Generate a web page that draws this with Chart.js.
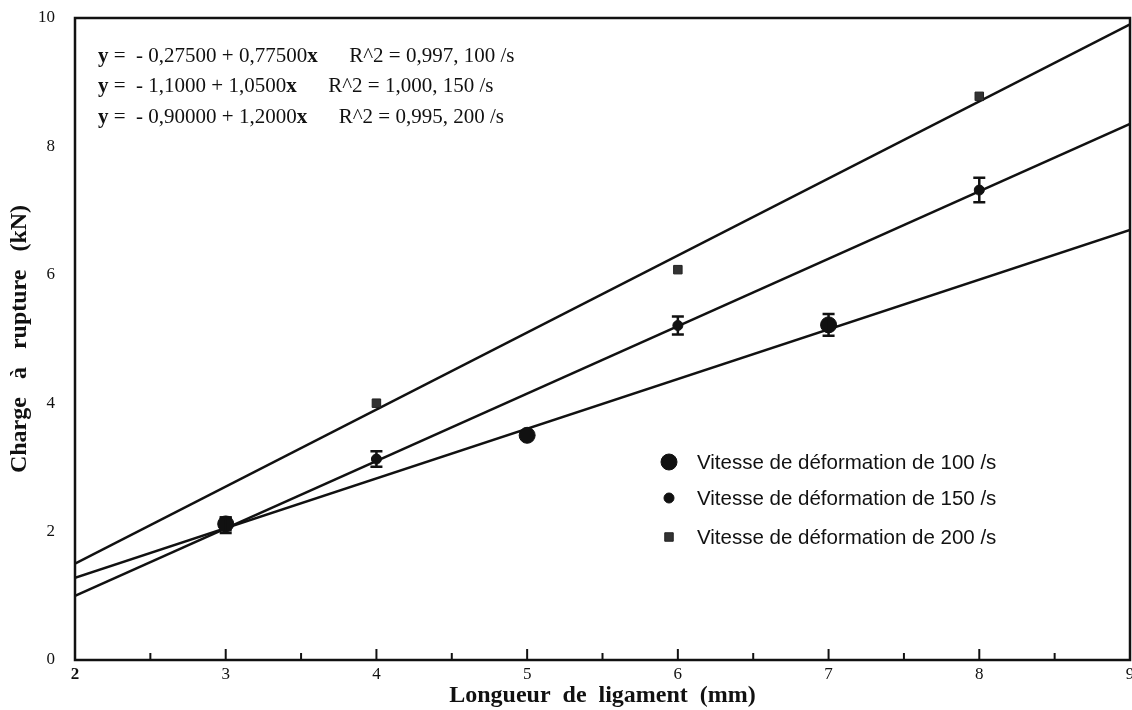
<!DOCTYPE html>
<html>
<head>
<meta charset="utf-8">
<script src="https://cdn.jsdelivr.net/npm/chart.js@4"></script>
<style>
  html, body { margin: 0; padding: 0; background: #fff; }
  #wrap { position: relative; width: 1132px; height: 710px; }
  canvas { display: block; }
  .eq { position: absolute; left: 98px; font-family: "Liberation Serif", "DejaVu Serif", serif; font-size: 21px; line-height: 22px; color: #111; white-space: pre; }
  .eq b { font-weight: bold; }
  .lg { position: absolute; left: 697px; font-family: "Liberation Sans", Arial, sans-serif; font-size: 20.5px; line-height: 22px; color: #111; white-space: pre; }
</style>
</head>
<body>
<div id="wrap">
  <canvas id="c" width="1132" height="710"></canvas>
  <div class="eq" style="top:44px"><b>y</b> =  - 0,27500 + 0,77500<b>x</b>      R^2 = 0,997, 100 /s</div>
  <div class="eq" style="top:74px"><b>y</b> =  - 1,1000 + 1,0500<b>x</b>      R^2 = 1,000, 150 /s</div>
  <div class="eq" style="top:105px"><b>y</b> =  - 0,90000 + 1,2000<b>x</b>      R^2 = 0,995, 200 /s</div>
  <div class="lg" style="top:451px">Vitesse de déformation de 100 /s</div>
  <div class="lg" style="top:487px">Vitesse de déformation de 150 /s</div>
  <div class="lg" style="top:526px">Vitesse de déformation de 200 /s</div>
</div>
<script>
// ---- data ----
const xTickValues = [2, 3, 4, 5, 6, 7, 8, 9];
const yTickValues = [0, 2, 4, 6, 8, 10];

const x100 = [3, 5, 7];
const y100 = [2.12, 3.5, 5.22];
const err100 = [0.1, 0, 0.17];

const x150 = [3, 4, 6, 8];
const y150 = [2.1, 3.13, 5.21, 7.32];
const err150 = [0.12, 0.12, 0.14, 0.19];

const x200 = [4, 6, 8];
const y200 = [4.0, 6.08, 8.78];

const fitX = [2, 9];
const fit100 = [1.28, 6.70];
const fit150 = [1.0, 8.35];
const fit200 = [1.5, 9.9];

const legendLabels = ['Vitesse de déformation de 100 /s', 'Vitesse de déformation de 150 /s', 'Vitesse de déformation de 200 /s'];
const xTitle = 'Longueur  de  ligament  (mm)';
const yTitle = 'Charge   à   rupture   (kN)';

const pts = (xs, ys) => xs.map((x, i) => ({ x: x, y: ys[i] }));

const INK = '#111';

// ---- plugins ----
const bgPlugin = {
  id: 'bg',
  beforeDraw(chart) {
    const c = chart.ctx;
    c.save(); c.fillStyle = '#fff'; c.fillRect(0, 0, chart.width, chart.height); c.restore();
  }
};

const framePlugin = {
  id: 'frame',
  afterDraw(chart) {
    const { ctx, chartArea: a, scales } = chart;
    ctx.save();
    ctx.strokeStyle = INK;
    ctx.lineWidth = 2.5;
    ctx.strokeRect(a.left, a.top, a.right - a.left, a.bottom - a.top);
    ctx.lineWidth = 2;
    for (let v = 2.5; v < 9; v += 0.5) {
      const px = scales.x.getPixelForValue(v);
      const len = Number.isInteger(v) ? 11 : 7;
      ctx.beginPath(); ctx.moveTo(px, a.bottom); ctx.lineTo(px, a.bottom - len); ctx.stroke();
    }
    ctx.restore();
  }
};

const errPlugin = {
  id: 'errbars',
  afterDatasetsDraw(chart) {
    const { ctx, scales } = chart;
    ctx.save();
    ctx.strokeStyle = INK;
    ctx.lineWidth = 2.5;
    chart.data.datasets.forEach(ds => {
      if (!ds.errors) return;
      ds.data.forEach((p, i) => {
        const e = ds.errors[i];
        if (!e) return;
        const px = scales.x.getPixelForValue(p.x);
        const y1 = scales.y.getPixelForValue(p.y + e);
        const y2 = scales.y.getPixelForValue(p.y - e);
        const cap = 6;
        ctx.beginPath();
        ctx.moveTo(px, y1); ctx.lineTo(px, y2);
        ctx.moveTo(px - cap, y1); ctx.lineTo(px + cap, y1);
        ctx.moveTo(px - cap, y2); ctx.lineTo(px + cap, y2);
        ctx.stroke();
      });
    });
    ctx.restore();
  }
};

const legendPlugin = {
  id: 'inlegend',
  afterDraw(chart) {
    const { ctx } = chart;
    const marks = [ { ds: 0, y: 462 }, { ds: 1, y: 498 }, { ds: 2, y: 537 } ];
    marks.forEach(m => {
      const d = chart.data.datasets[m.ds];
      ctx.save();
      ctx.fillStyle = d.pointBackgroundColor; ctx.strokeStyle = d.pointBorderColor; ctx.lineWidth = 1;
      ctx.beginPath();
      if (d.pointStyle === 'rect') {
        const s = Math.SQRT1_2 * d.pointRadius;
        ctx.rect(669 - s, m.y - s, 2 * s, 2 * s);
      } else {
        ctx.arc(669, m.y, d.pointRadius, 0, Math.PI * 2);
      }
      ctx.fill(); ctx.stroke();
      ctx.restore();
    });
  }
};

// ---- chart ----
new Chart(document.getElementById('c'), {
  type: 'scatter',
  data: {
    datasets: [
      { label: legendLabels[0], data: pts(x100, y100), errors: err100, pointStyle: 'circle', pointRadius: 8,
        pointBackgroundColor: INK, pointBorderColor: INK, showLine: false },
      { label: legendLabels[1], data: pts(x150, y150), errors: err150, pointStyle: 'circle', pointRadius: 5,
        pointBackgroundColor: INK, pointBorderColor: INK, showLine: false },
      { label: legendLabels[2], data: pts(x200, y200), pointStyle: 'rect', pointRadius: 6,
        pointBackgroundColor: '#333', pointBorderColor: '#222', showLine: false },
      { label: 'fit100', data: pts(fitX, fit100), showLine: true, borderColor: INK, borderWidth: 2.5, pointRadius: 0 },
      { label: 'fit150', data: pts(fitX, fit150), showLine: true, borderColor: INK, borderWidth: 2.5, pointRadius: 0 },
      { label: 'fit200', data: pts(fitX, fit200), showLine: true, borderColor: INK, borderWidth: 2.5, pointRadius: 0 }
    ]
  },
  options: {
    responsive: false,
    animation: false,
    devicePixelRatio: 1,
    layout: { autoPadding: false, padding: { top: 18, right: 2, left: 0, bottom: 0 } },
    plugins: { legend: { display: false }, tooltip: { enabled: false } },
    scales: {
      x: {
        type: 'linear', min: 2, max: 9,
        afterBuildTicks: s => { s.ticks = xTickValues.map(v => ({ value: v })); },
        afterFit: s => { s.height = 50; s.paddingLeft = 0; s.paddingRight = 0; },
        grid: { display: false, drawTicks: false },
        border: { display: false },
        ticks: {
          padding: 4, color: INK, maxRotation: 0, autoSkip: false,
          font: ctx => ({ family: '"Liberation Serif", serif', size: 17, weight: ctx.tick && ctx.tick.value === 2 ? 'bold' : 'normal' })
        },
        title: { display: true, text: xTitle, color: INK, padding: { top: 0, bottom: 0 },
          font: { family: '"Liberation Serif", serif', size: 24, weight: 'bold' } }
      },
      y: {
        type: 'linear', min: 0, max: 10,
        afterBuildTicks: s => { s.ticks = yTickValues.map(v => ({ value: v })); },
        afterFit: s => { s.width = 75; s.paddingTop = 0; s.paddingBottom = 0; },
        grid: { display: false, drawTicks: false },
        border: { display: false },
        ticks: { padding: 20, color: INK, font: { family: '"Liberation Serif", serif', size: 17 } },
        title: { display: true, text: yTitle, color: INK, padding: { top: 5, bottom: 0 },
          font: { family: '"Liberation Serif", serif', size: 24, weight: 'bold' } }
      }
    }
  },
  plugins: [bgPlugin, errPlugin, framePlugin, legendPlugin]
});
</script>
</body>
</html>
